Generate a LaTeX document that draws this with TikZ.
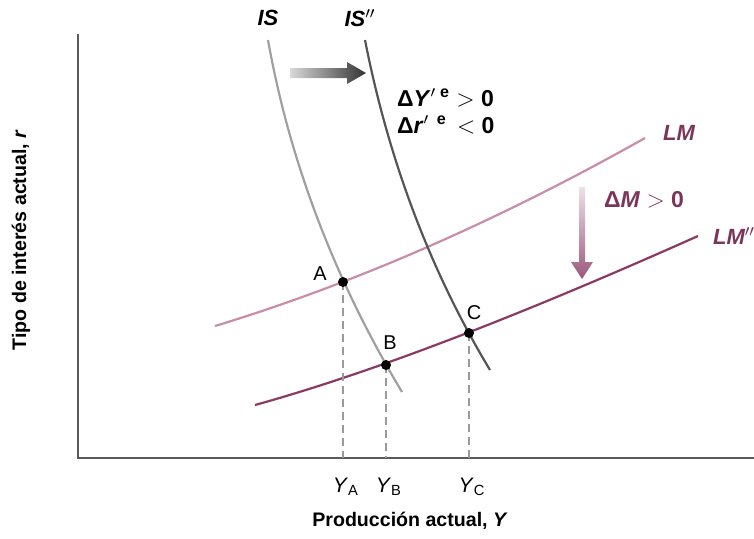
\documentclass[tikz,border=0pt]{standalone}
\usepackage{fontspec}
\setmainfont{Liberation Sans}
\usepackage{tikz}
\usetikzlibrary{arrows.meta, positioning}
\definecolor{cAxis}{HTML}{5A5A5A}
\definecolor{cIS}{HTML}{A0A0A0}
\definecolor{cISb}{HTML}{555555}
\definecolor{cLM}{HTML}{C98DA9}
\definecolor{cLMb}{HTML}{8A3A64}
\definecolor{cLab}{HTML}{7B3559}
\definecolor{cDash}{HTML}{9A9A9A}

\begin{document}
\begin{tikzpicture}[x=0.5pt, y=-0.5pt, every node/.style={font=\fontsize{9.5}{11}\selectfont},
  axis/.style={cAxis, line width=0.8pt},
  curve/.style={line width=1.1pt, #1},
  guide/.style={cDash, dashed, dash pattern=on 4pt off 2.5pt, line width=0.6pt},
  dot/.style={circle, fill=black, inner sep=0pt, minimum size=5pt},
  pt/.style={font=\fontsize{10}{12}\selectfont},
  ylev/.style={font=\fontsize{10.5}{12}\selectfont},
  curvelab/.style={font=\fontsize{11}{13}\selectfont\bfseries\itshape, text=#1},
  shiftlab/.style={anchor=west, font=\fontsize{11.5}{13}\selectfont\bfseries},
  axlab/.style={font=\fontsize{9.8}{12}\selectfont\bfseries}]
  \useasboundingbox (0,0) rectangle (754,538);
  % axes
  \coordinate (orig) at (78,458);
  \coordinate (ytop) at (78,34);
  \coordinate (xend) at (754,458);
  \draw[axis] (ytop) -- (orig) -- (xend);
  \node[axlab] (xlab) at (410,521) {Producción actual, \textit{Y}};
  \node[axlab, rotate=90] (ylab) at (21,240) {Tipo de interés actual, \textit{r}};
  % equilibria
  \coordinate (A) at (343,282);
  \coordinate (B) at (386,365);
  \coordinate (C) at (469,333);
  % LM curves
  \draw[curve=cLM] (215,326) .. controls (350,285) and (494,223) .. (645,138);
  \draw[curve=cLMb] (255,405) .. controls (374,372) and (521,315) .. (698,236);
  % IS curves
  \draw[curve=cIS] (268,40) .. controls (290,163) and (335,280) .. (402,392);
  \draw[curve=cISb] (365,40) .. controls (389,162) and (431,272) .. (490,370);
  % guides to the axis
  \foreach \p in {A, B, C} {
    \draw[guide] (\p) -- (\p |- orig);
    \node[ylev] (y\p) at ([xshift=1.5pt, yshift=-14.5pt] \p |- orig) {\textit{Y}\textsubscript{\p}};
  }
  \node[dot] (dA) at (A) {};
  \node[dot] (dB) at (B) {};
  \node[dot] (dC) at (C) {};
  \node[pt] (lA) at (320,274) {A};
  \node[pt] (lB) at (390,343) {B};
  \node[pt] (lC) at (474,313) {C};
  % curve labels
  \node[curvelab=black] (is) at (268,18) {IS};
  \node[curvelab=black] (is2) at (360,18) {IS\textsuperscript{$\prime\prime$}};
  \node[curvelab=cLab, anchor=west] (lm) at (656,133) {LM};
  \node[curvelab=cLab, anchor=west] (lm2) at (706,236) {LM\textsuperscript{$\prime\prime$}};
  % shift of IS
  \shade[left color=black!15, right color=black!80]
    (290,68) -- (347,68) -- (347,62) -- (366,73) -- (347,84) -- (347,78) -- (290,78) -- cycle;
  \node[shiftlab] (dy) at (390,98) {Δ\textit{Y}$'$\,\textsuperscript{e} $>$ 0};
  \node[shiftlab] (dr) at (390,125) {Δ\textit{r}$'$\,\,\textsuperscript{e} \,$<$ 0};
  % shift of LM
  \shade[top color=cLMb!15, bottom color=cLMb!85]
    (579,187) -- (585,187) -- (585,262) -- (593,262) -- (582,279) -- (571,262) -- (579,262) -- cycle;
  \node[shiftlab, text=cLab] (dm) at (597,200) {Δ\textit{M} $>$ 0};
\end{tikzpicture}
\end{document}
